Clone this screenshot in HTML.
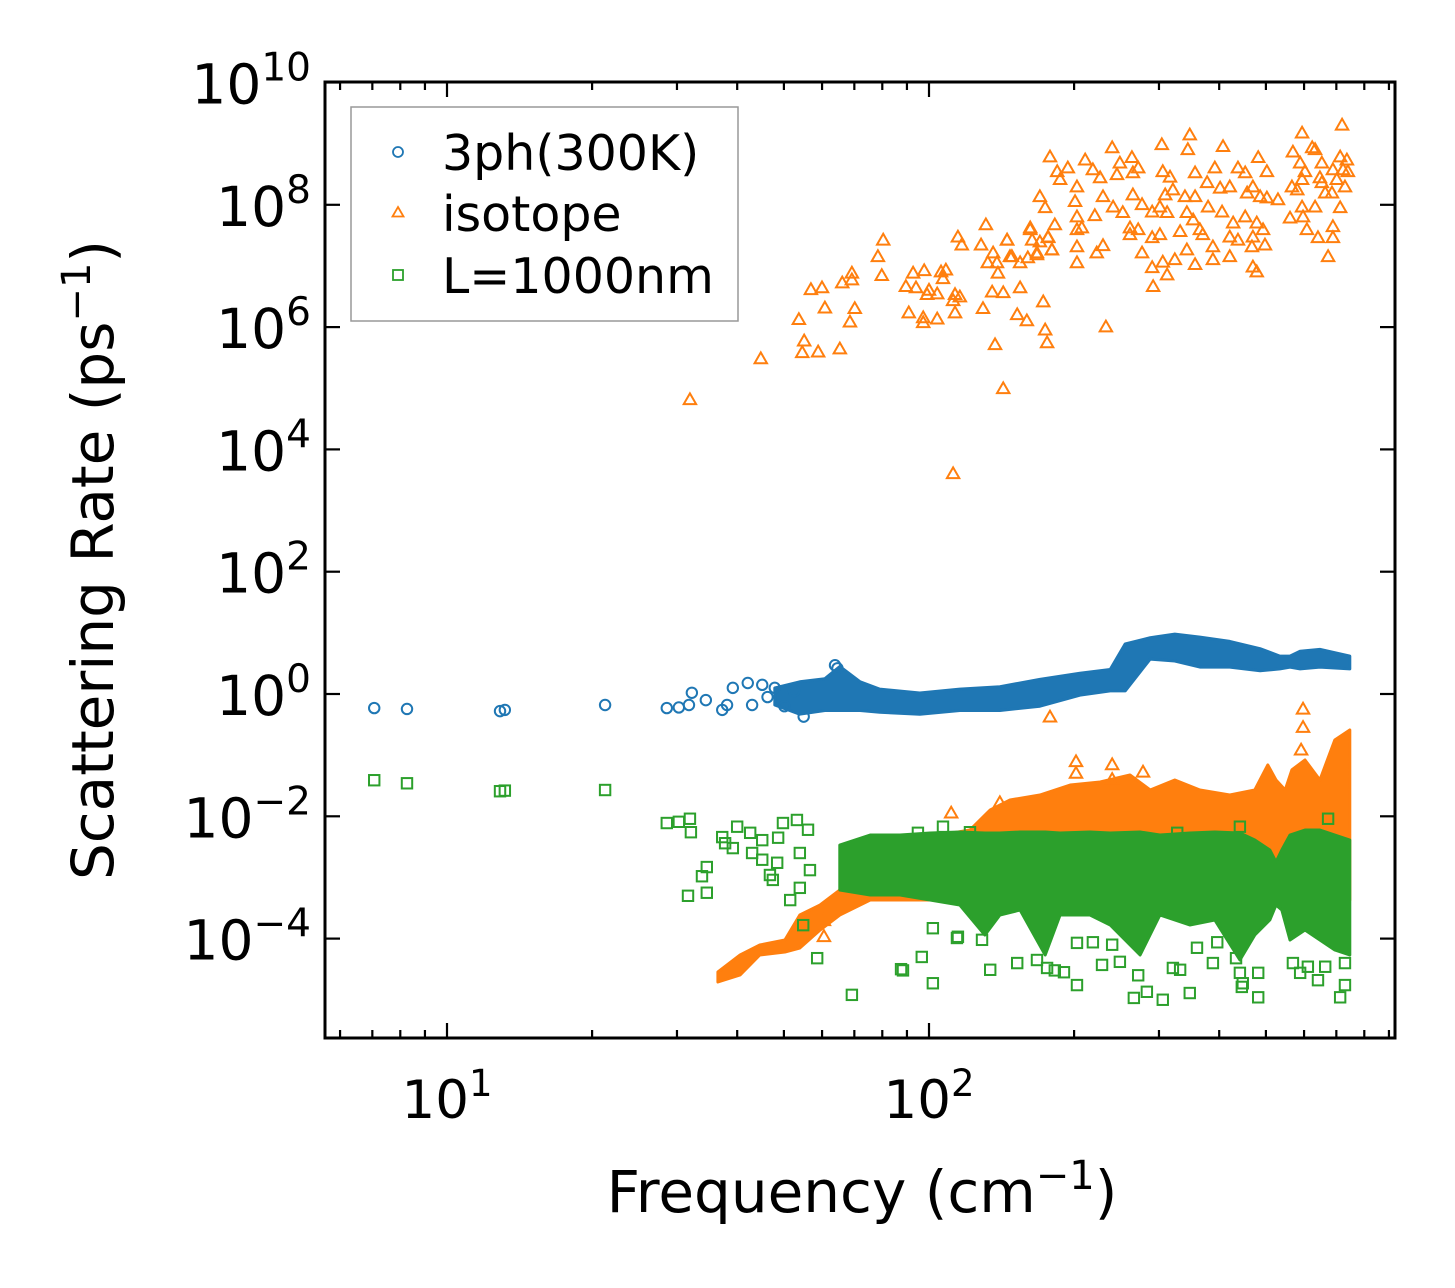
<!DOCTYPE html>
<html><head><meta charset="utf-8"><style>
html,body{margin:0;padding:0;background:#fff}
svg{display:block;font-family:"DejaVu Sans","Liberation Sans",sans-serif}
</style></head><body>
<svg id="chart" width="1455" height="1288" viewBox="0 0 1455 1288" xmlns="http://www.w3.org/2000/svg">
<rect width="1455" height="1288" fill="#fff"/>
<g id="marks"></g>
<g id="axes"></g>
<g>
  <rect x="351" y="107" width="387" height="214" fill="#fff" fill-opacity="0.8" stroke="#999" stroke-width="1.5"/>
  <g>
    <circle cx="398" cy="152" r="5" fill="none" stroke="#1f77b4" stroke-width="1.8"/>
    <text x="442" y="170" font-size="49" fill="#000">3ph(300K)</text>
  </g>
  <g>
    <path d="M398,207 L403.5,216.5 L392.5,216.5 Z" fill="none" stroke="#ff7f0e" stroke-width="1.8"/>
    <text x="442" y="231" font-size="49" fill="#000">isotope</text>
  </g>
  <g>
    <rect x="393" y="270" width="10" height="10" fill="none" stroke="#2ca02c" stroke-width="1.8"/>
    <text x="442" y="293" font-size="49" fill="#000">L=1000nm</text>
  </g>
</g>
<text x="862" y="1212" font-size="58" text-anchor="middle">Frequency (cm<tspan font-size="40" dy="-23">−1</tspan><tspan dy="23">)</tspan></text>
<text transform="translate(113,560) rotate(-90)" font-size="58" text-anchor="middle">Scattering Rate (ps<tspan font-size="40" dy="-23">−1</tspan><tspan dy="23">)</tspan></text>
</svg>
<script>
// ---- data (log10 frequency in cm^-1, log10 rate in ps^-1) ----
const xTickExps = [1, 2];
const yTickExps = [-4, -2, 0, 2, 4, 6, 8, 10];

const ph3Pts = [[0.849,-0.23],[0.917,-0.245],[1.11,-0.28],[1.12,-0.26],[1.328,-0.18],[1.456,-0.23],[1.481,-0.22],[1.502,-0.18],[1.508,0.02],[1.537,-0.1],[1.571,-0.26],[1.581,-0.18],[1.593,0.1],[1.624,0.18],[1.633,-0.18],[1.654,0.15],[1.805,0.47],[1.81,0.42],[1.74,-0.37],[1.665,-0.05],[1.68,0.1],[1.70,-0.2],[1.72,0.05]];
const ph3BandF  = [1.68,1.732,1.784,1.815,1.857,1.898,1.981,2.064,2.147,2.23,2.313,2.376,2.407,2.459,2.51,2.562,2.624,2.687,2.728,2.749,2.77,2.811,2.873];
const ph3BandHi = [0.1,0.2,0.25,0.45,0.2,0.08,0.016,0.08,0.12,0.24,0.34,0.40,0.82,0.92,0.98,0.93,0.86,0.74,0.62,0.62,0.70,0.73,0.62];
const ph3BandLo = [-0.18,-0.33,-0.27,-0.27,-0.27,-0.3,-0.33,-0.27,-0.27,-0.2,-0.02,0.05,0.05,0.57,0.54,0.44,0.44,0.38,0.41,0.44,0.41,0.44,0.41];

const isoPts = [[1.504,4.81],[1.651,5.48],[1.73,6.12],[1.741,5.77],[1.737,5.58],[1.77,5.59],[1.815,5.64],[1.755,6.61],[1.778,6.64],[1.784,6.31],[1.836,6.08],[1.846,6.30],[1.82,6.72],[1.84,6.88],[1.84,6.77],[1.894,7.15],[1.905,7.42],[1.902,6.84],[1.952,6.66],[1.967,6.88],[1.99,6.92],[1.973,6.64],[1.996,6.53],[2.017,6.54],[2.0,6.6],[1.958,6.23],[1.988,6.15],[1.988,6.07],[2.017,6.13],[2.029,6.79],[2.025,6.90],[2.035,6.93],[2.054,6.53],[2.05,6.43],[2.064,6.49],[2.054,6.23],[2.06,7.47],[2.068,7.34],[2.112,6.30],[2.137,5.71],[2.154,4.99],[2.05,3.60],[2.118,7.67],[2.108,7.34],[2.131,6.57],[2.154,6.56],[2.189,6.64],[2.183,6.20],[2.203,6.10],[2.237,6.41],[2.241,5.95],[2.245,5.74],[2.133,7.21],[2.141,7.05],[2.122,7.05],[2.143,6.88],[2.162,7.42],[2.168,7.15],[2.189,7.05],[2.205,7.13],[2.224,7.21],[2.21,7.59],[2.23,7.39],[2.247,7.47],[2.255,7.26],
[2.251,8.78],[2.266,8.54],[2.288,8.60],[2.272,8.41],[2.23,8.13],[2.241,7.95],[2.21,7.62],[2.214,7.42],[2.162,7.42],[2.172,7.15],[2.224,7.18],[2.255,7.26],[2.247,7.46],[2.261,7.67],[2.367,6.00],[2.324,8.73],[2.307,8.29],[2.303,8.05],[2.307,7.80],[2.307,7.59],[2.307,7.31],[2.307,7.05],[2.317,7.62],[2.344,7.82],[2.348,7.21],[2.361,7.33],[2.34,8.57],[2.355,8.44],[2.38,8.93],[2.396,8.68],[2.39,8.49],[2.361,8.13],[2.382,7.96],[2.402,7.87],[2.421,8.77],[2.434,8.60],[2.423,8.52],[2.423,8.16],[2.442,8.00],[2.463,7.88],[2.417,7.62],[2.434,7.59],[2.417,7.51],[2.483,8.98],[2.485,8.54],[2.5,8.45],[2.506,8.24],[2.49,8.16],[2.479,7.96],[2.494,7.87],[2.463,7.46],[2.479,7.51],[2.442,7.21],[2.463,6.97],[2.485,7.06],[2.494,6.85],[2.465,6.66],[2.521,7.56],[2.51,7.10],[2.535,7.26],[2.552,7.02],[2.541,9.14],[2.537,8.90],[2.552,8.52],[2.531,8.13],[2.552,8.13],[2.535,7.87],[2.548,7.75],[2.562,7.59],[2.577,8.36],[2.579,7.96],[2.593,8.60],[2.604,8.27],[2.61,8.95],[2.589,7.31],[2.589,7.10],[2.568,7.51],[2.608,7.88],[2.624,7.15],[2.624,7.47],[2.641,7.42],[2.631,7.70],[2.624,8.29],[2.641,8.60],[2.656,8.52],[2.66,8.19],[2.672,8.29],[2.687,8.13],[2.701,8.11],[2.683,8.77],[2.701,8.54],[2.68,7.70],[2.693,7.59],[2.672,7.47],[2.67,7.31],[2.697,7.34],[2.672,6.98],[2.68,6.90],[2.656,7.80],[2.724,8.08],[2.749,7.78],[2.753,8.29],[2.755,8.86],[2.774,9.17],[2.77,8.68],[2.78,8.54],[2.774,8.41],[2.764,8.24],[2.774,7.96],[2.776,7.80],[2.784,7.59],[2.795,8.93],[2.801,8.90],[2.807,7.46],[2.801,7.96],[2.815,8.68],[2.815,8.36],[2.822,8.19],[2.836,8.19],[2.838,7.64],[2.838,7.46],[2.828,7.15],[2.853,7.95],[2.857,9.30],[2.853,8.78],[2.867,8.73],[2.859,8.57],[2.869,8.54],[2.863,8.29],[2.838,8.57],[2.846,8.41],[2.811,8.44],
[2.251,-0.38],[2.776,-0.25],[2.776,-0.55],[2.772,-0.92],[2.305,-1.11],[2.305,-1.30],[2.38,-1.16],[2.38,-1.40],[2.444,-1.28],[2.147,-1.78],[2.046,-1.95],[1.782,-3.71],[1.782,-3.97]];
const isoBandF  = [1.562,1.608,1.649,1.701,1.732,1.774,1.815,1.878,1.94,2.023,2.085,2.127,2.168,2.23,2.293,2.355,2.417,2.459,2.51,2.562,2.624,2.676,2.703,2.72,2.739,2.753,2.78,2.811,2.842,2.873];
const isoBandHi = [-4.546,-4.268,-4.105,-4.023,-3.614,-3.45,-3.205,-2.715,-2.388,-2.306,-2.224,-1.897,-1.733,-1.652,-1.488,-1.439,-1.325,-1.57,-1.406,-1.57,-1.652,-1.57,-1.161,-1.406,-1.57,-1.24,-1.079,-1.406,-0.752,-0.589];
const isoBandLo = [-4.71,-4.595,-4.268,-4.219,-4.154,-3.859,-3.614,-3.369,-3.369,-3.369,-3.369,-3.369,-3.369,-3.369,-3.369,-3.369,-3.369,-3.369,-3.369,-3.369,-3.369,-3.369,-3.369,-3.042,-3.042,-3.369,-3.369,-3.369,-3.369,-3.369];

const bndPts = [[0.849,-1.41],[0.917,-1.46],[1.11,-1.59],[1.12,-1.58],[1.328,-1.57],[1.456,-2.11],[1.481,-2.09],[1.504,-2.04],[1.506,-2.26],[1.539,-2.83],[1.529,-2.98],[1.5,-3.3],[1.539,-3.25],[1.571,-2.34],[1.577,-2.44],[1.593,-2.52],[1.602,-2.17],[1.629,-2.27],[1.633,-2.6],[1.654,-2.39],[1.654,-2.71],[1.67,-2.96],[1.676,-3.04],[1.687,-2.35],[1.697,-2.11],[1.685,-2.76],[1.712,-3.37],[1.726,-2.06],[1.732,-3.17],[1.739,-3.78],[1.749,-2.22],[1.732,-2.6],[1.753,-2.88],[1.768,-4.32],[1.84,-4.92],[1.942,-4.5],[2.008,-4.73],[2.06,-3.97],[2.127,-4.51],[2.183,-4.4],[2.224,-4.35],[2.245,-4.48],[2.307,-4.76],[2.359,-4.43],[2.425,-4.97],[2.485,-5.0],[2.541,-4.89],[2.589,-4.4],[2.649,-4.79],[2.683,-4.96],[2.637,-4.32],[2.853,-4.96],[2.863,-4.76],[2.786,-4.46],[2.452,-4.87],[2.434,-4.6],[2.77,-4.56],[2.807,-4.68],[2.645,-4.56],[2.651,-4.73],[2.28,-4.55],[2.261,-4.52],[1.985,-4.3],[1.946,-4.52],[2.396,-4.38],[2.058,-3.99],[2.11,-4.02],[2.008,-3.83],[2.307,-4.07],[2.34,-4.06],[2.38,-4.1],[2.506,-4.48],[2.521,-4.51],[2.556,-4.15],[2.598,-4.06],[2.683,-4.56],[2.755,-4.4],[2.822,-4.46],[2.863,-4.4],[2.029,-2.17],[1.977,-2.27],[2.085,-2.26],[2.828,-2.04],[2.645,-2.17],[2.515,-2.27]];
const bndBandF  = [1.815,1.878,1.94,2.002,2.064,2.116,2.147,2.189,2.241,2.272,2.334,2.376,2.438,2.479,2.541,2.593,2.645,2.676,2.707,2.72,2.732,2.749,2.78,2.811,2.842,2.873];
const bndBandHi = [-2.469,-2.306,-2.306,-2.273,-2.257,-2.273,-2.273,-2.257,-2.257,-2.273,-2.257,-2.273,-2.257,-2.306,-2.273,-2.257,-2.273,-2.388,-2.551,-2.747,-2.551,-2.306,-2.224,-2.224,-2.306,-2.388];
const bndBandLo = [-3.205,-3.287,-3.287,-3.369,-3.45,-3.941,-3.614,-3.532,-4.268,-3.614,-3.614,-3.778,-4.268,-3.614,-3.778,-3.696,-4.35,-3.941,-3.696,-3.45,-3.532,-4.023,-3.859,-4.023,-4.186,-4.268];

// ---- axes ----
const X0=447, XD=482, Y0=694, YD=61.15;
function xs(lf){return X0+(lf-1)*XD;}
function ys(lv){return Y0-lv*YD;}
const L=325,R=1395,T=82,B=1038;
const NS="http://www.w3.org/2000/svg";
function mk(tag,attrs,parent){const e=document.createElementNS(NS,tag);for(const k in attrs)e.setAttribute(k,attrs[k]);parent.appendChild(e);return e;}
const marks=document.getElementById('marks');
const axes=document.getElementById('axes');
const C1='#1f77b4',C2='#ff7f0e',C3='#2ca02c';

function band(F,Hi,Lo,color,name){
  let pts=[];
  for(let i=0;i<F.length;i++)pts.push(xs(F[i]).toFixed(1)+','+ys(Hi[i]).toFixed(1));
  for(let i=F.length-1;i>=0;i--)pts.push(xs(F[i]).toFixed(1)+','+ys(Lo[i]).toFixed(1));
  const p=mk('polygon',{points:pts.join(' '),fill:color,stroke:color,'stroke-width':3,'stroke-linejoin':'round'},marks);
  
  
}
function circles(P){
  P.forEach(d=>{const c=mk('circle',{cx:xs(d[0]),cy:ys(d[1]),r:5.2,fill:'none',stroke:C1,'stroke-width':2},marks);
    
    });
}
function tris(P){
  P.forEach(d=>{const x=xs(d[0]),y=ys(d[1]);
    const t=mk('path',{d:`M${x},${y-6.5} L${x+6.2},${y+4.3} L${x-6.2},${y+4.3} Z`,fill:'none',stroke:C2,'stroke-width':2},marks);
    
    });
}
function squares(P){
  P.forEach(d=>{const x=xs(d[0]),y=ys(d[1]);
    const s=mk('rect',{x:x-5.2,y:y-5.2,width:10.4,height:10.4,fill:'none',stroke:C3,'stroke-width':2},marks);
    
    });
}
band(ph3BandF,ph3BandHi,ph3BandLo,C1,'band-3ph');
circles(ph3Pts);
band(isoBandF,isoBandHi,isoBandLo,C2,'band-isotope');
tris(isoPts);
band(bndBandF,bndBandHi,bndBandLo,C3,'band-boundary');
squares(bndPts);

// frame
const fr=mk('rect',{x:L,y:T,width:R-L,height:B-T,fill:'none',stroke:'#000','stroke-width':3},axes);


// x ticks
for(let e=0;e<=2;e++){
  for(let m=1;m<=9;m++){
    const lf=e+Math.log10(m); const x=xs(lf);
    if(x<L+2||x>R-2)continue;
    const len=(m===1)?15:8;
    mk('line',{x1:x,y1:B,x2:x,y2:B-len,stroke:'#000','stroke-width':2.2},axes);
    mk('line',{x1:x,y1:T,x2:x,y2:T+len,stroke:'#000','stroke-width':2.2},axes);
  }
}
xTickExps.forEach(e=>{
  const t=mk('text',{x:xs(e),y:1118,'font-size':53,'text-anchor':'middle'},axes);
  
  
  t.innerHTML='10<tspan font-size="37" dy="-22">'+e+'</tspan>';
});
yTickExps.forEach(e=>{
  const y=ys(e);
  mk('line',{x1:L,y1:y,x2:L+15,y2:y,stroke:'#000','stroke-width':2.2},axes);
  mk('line',{x1:R,y1:y,x2:R-15,y2:y,stroke:'#000','stroke-width':2.2},axes);
  const t=mk('text',{x:311,y:y+21,'font-size':55,'text-anchor':'end'},axes);
  
  
  const s=e<0?'−'+Math.abs(e):String(e);
  t.innerHTML='10<tspan font-size="39" dy="-23">'+s+'</tspan>';
});
</script>
</body></html>
